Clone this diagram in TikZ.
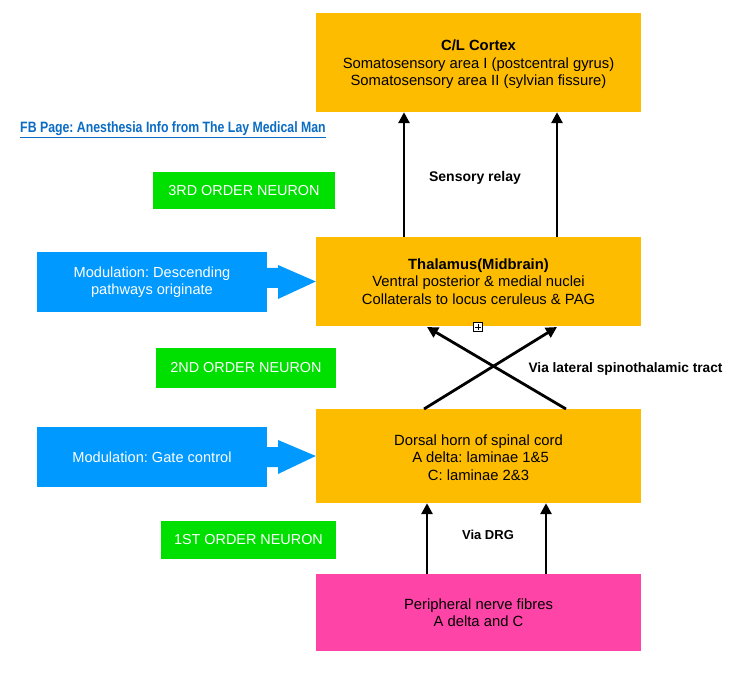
\documentclass[tikz,border=0pt]{standalone}
\usepackage{fontspec}
\setmainfont{Liberation Sans}
\usetikzlibrary{arrows.meta}
\frenchspacing
\definecolor{boxorange}{HTML}{FEBC00}
\definecolor{boxpink}{HTML}{FF44A8}
\definecolor{boxblue}{HTML}{0099FF}
\definecolor{boxgreen}{HTML}{00E000}
\definecolor{linkblue}{HTML}{0A6CC4}
\tikzset{
  stagebox/.style={fill=boxorange, draw=none, minimum width=325pt, align=center, font=\fontsize{14.8}{17.5}\selectfont, inner sep=0pt},
  orderlabel/.style={fill=boxgreen, draw=none, text=white, font=\fontsize{14.4}{16}\selectfont, inner sep=0pt, minimum height=38pt},
  modbox/.style={fill=boxblue, draw=none, text=white, minimum width=230pt, minimum height=60pt, align=center, font=\fontsize{14.6}{17.5}\selectfont, inner sep=0pt},
  tractlabel/.style={font=\bfseries\fontsize{14}{16}\selectfont, inner sep=0pt},
  relay/.style={-{Triangle[length=11pt,width=11pt]}, line width=2.8pt},
  fatarrow/.style={fill=boxblue, draw=none}
}
\begin{document}
\begin{tikzpicture}[x=1pt,y=-1pt]
\useasboundingbox (0,0) rectangle (744,676);
% main boxes
\node[stagebox, minimum height=99pt] (cortex) at (478.5,62.5) {};
\node[align=center, font=\fontsize{14.8}{17.5}\selectfont, inner sep=0pt] (cortext) at (478.5,64.5) {\textbf{C/L Cortex}\\Somatosensory area I (postcentral gyrus)\\Somatosensory area II (sylvian fissure)};
\node[stagebox, minimum height=89pt] (thal) at (478.5,281.5) {\textbf{Thalamus(Midbrain)}\\Ventral posterior \& medial nuclei\\Collaterals to locus ceruleus \& PAG};
\node[stagebox, minimum height=94pt] (dorsal) at (478.5,456) {};
\node[align=center, font=\fontsize{14.8}{17.5}\selectfont, inner sep=0pt] (dortext) at (478.5,457.5) {Dorsal horn of spinal cord\\\ A delta: laminae 1\&5\\C: laminae 2\&3};
\node[stagebox, fill=boxpink, minimum height=77pt] (periph) at (478.5,612.5) {Peripheral nerve fibres\\A delta and C};
% order labels
\node[orderlabel, minimum width=182pt, minimum height=37pt] (third) at (244,190.5) {3RD ORDER NEURON};
\node[orderlabel, minimum width=180pt, minimum height=40pt] (second) at (246,368) {2ND ORDER NEURON};
\node[orderlabel, minimum width=175pt, minimum height=38pt] (first) at (248.5,540) {1ST ORDER NEURON};
% modulation boxes
\node[modbox] (descend) at (152,282) {Modulation: Descending\\pathways originate};
\node[modbox] (gate) at (152,457) {Modulation: Gate control};
% fat arrows
\fill[boxblue] (descend.east |- 0,268) -- (278,268) -- (278,265) -- (thal.west) -- (278,299) -- (278,288) -- (descend.east |- 0,288) -- cycle;
\fill[boxblue] (gate.east |- 0,447) -- (278,447) -- (278,440) -- (dorsal.west) -- (278,474) -- (278,467) -- (gate.east |- 0,467) -- cycle;
% relay arrows thalamus -> cortex
\coordinate (t1) at (404,237);
\coordinate (t2) at (557,237);
\draw[relay] (t1) -- (t1 |- cortex.south);
\draw[relay] (t2) -- (t2 |- cortex.south);
% crossing arrows dorsal -> thalamus
\coordinate (d1) at (424,409);
\coordinate (d2) at (566,409);
\coordinate (h1) at (557,327);
\coordinate (h2) at (427,327);
\draw[relay] (d1) -- (h1);
\draw[relay] (d2) -- (h2);
% peripheral -> dorsal
\coordinate (p1) at (427,574);
\coordinate (p2) at (546,574);
\draw[relay] (p1) -- (p1 |- dorsal.south);
\draw[relay] (p2) -- (p2 |- dorsal.south);
% labels
\node[tractlabel] (sr) at (475,178) {Sensory relay};
\node[tractlabel, font=\bfseries\fontsize{13.7}{16}\selectfont] (vl) at (625.5,369) {Via lateral spinothalamic tract};
\node[tractlabel, font=\bfseries\fontsize{13}{16}\selectfont] (drg) at (488,535) {Via DRG};
\node[inner sep=0pt, text=linkblue, font=\bfseries\fontsize{15}{17}\selectfont] (link) at (173,130) {\scalebox{0.82}[1]{\underline{FB Page: Anesthesia Info from The Lay Medical Man}}};
% small plus marker
\node[draw=black, line width=0.7pt, fill=white, minimum size=9pt, inner sep=0pt] (plus) at (478,327) {};
\draw[line width=0.7pt] (plus.west) ++(1.5,0) -- ([xshift=-1.5pt]plus.east);
\draw[line width=0.7pt] (plus.north) ++(0,1.5) -- ([yshift=1.5pt]plus.south);
\end{tikzpicture}
\end{document}
